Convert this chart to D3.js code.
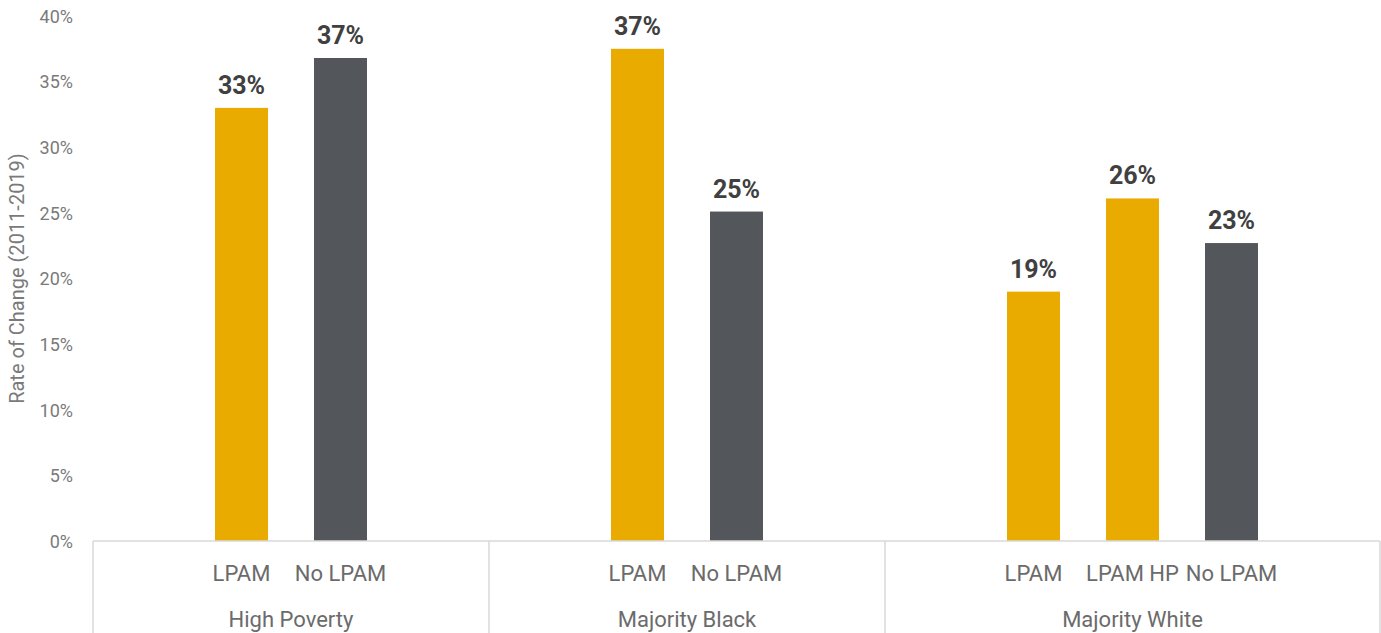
<!DOCTYPE html>
<html>
<head>
<meta charset="utf-8">
<script src="https://cdn.jsdelivr.net/npm/d3@7"></script>
<style>
  html, body { margin: 0; padding: 0; background: #fff; }
  svg { display: block; }
</style>
</head>
<body>
<svg id="chart" width="1381" height="633"></svg>
<script>
// Data
const groups = ["High Poverty", "Majority Black", "Majority White"];
const groupSlots = [4, 4, 5]; // category slots per group (including blank slots)
const categories = [
  "", "LPAM", "No LPAM", "",
  "", "LPAM", "No LPAM", "",
  "", "LPAM", "LPAM HP", "No LPAM", ""
];
const values = [
  null, 33.0, 36.8, null,
  null, 37.5, 25.1, null,
  null, 19.0, 26.1, 22.7, null
];
const labels = [
  "", "33%", "37%", "",
  "", "37%", "25%", "",
  "", "19%", "26%", "23%", ""
];
const seriesType = [
  "", "lpam", "no", "",
  "", "lpam", "no", "",
  "", "lpam", "lpam", "no", ""
];
const yTicks = [0, 5, 10, 15, 20, 25, 30, 35, 40];
const yTitle = "Rate of Change (2011-2019)";

(function () {
const colors = { lpam: "#EAAB00", no: "#53565A" };
const font = "Roboto, 'Open Sans', sans-serif";

const svg = d3.select("#chart");
const mLeft = 93, mRight = 1380, mTop = 16, mBottom = 541;

const slotIdx = categories.map((_, i) => i);
const x = d3.scaleBand().domain(slotIdx).range([mLeft, mRight]).padding(0);
const y = d3.scaleLinear().domain([0, 40]).range([mBottom, mTop]);

const barW = x.bandwidth() * 0.535;

// Y axis tick labels
const yAxis = d3.axisLeft(y).tickValues(yTicks).tickFormat(d => d + "%").tickSize(0).tickPadding(0);
const gy = svg.append("g").attr("transform", `translate(${73},0)`).call(yAxis);
gy.select(".domain").remove();
gy.selectAll("text")
  .attr("fill", "#7a7a7a")
  .style("font-family", font)
  .style("font-size", "18px")
  .attr("dy", "0.35em");

// Y title
svg.append("text")
  .attr("transform", `translate(24, ${(mTop + mBottom) / 2}) rotate(-90)`)
  .attr("text-anchor", "middle")
  .attr("fill", "#7a7a7a")
  .style("font-family", font)
  .style("font-size", "20px")
  .text(yTitle);

// Bars
const data = slotIdx.filter(i => values[i] != null);
svg.append("g").selectAll("rect")
  .data(data)
  .join("rect")
  .attr("x", i => x(i) + (x.bandwidth() - barW) / 2)
  .attr("y", i => y(values[i]))
  .attr("width", barW)
  .attr("height", i => y(0) - y(values[i]))
  .attr("fill", i => colors[seriesType[i]]);

// Data labels
svg.append("g").selectAll("text")
  .data(data)
  .join("text")
  .attr("x", i => x(i) + x.bandwidth() / 2)
  .attr("y", i => y(values[i]) - 14)
  .attr("text-anchor", "middle")
  .attr("fill", "#404040")
  .style("font-family", font)
  .style("font-weight", "bold")
  .style("font-size", "25px")
  .text(i => labels[i]);

// Category axis line
const axisColor = "#d9d9d9";
svg.append("line")
  .attr("x1", mLeft).attr("x2", mRight)
  .attr("y1", mBottom).attr("y2", mBottom)
  .attr("stroke", axisColor).attr("stroke-width", 1.5);

// Group separators
let start = 0;
const bounds = [];
groupSlots.forEach(n => {
  bounds.push([start, start + n]);
  start += n;
});
const edge = k => (k === categories.length ? mRight : x(k));
const sepXs = [mLeft].concat(bounds.map(b => edge(b[1])));
svg.append("g").selectAll("line")
  .data(sepXs)
  .join("line")
  .attr("x1", d => d).attr("x2", d => d)
  .attr("y1", mBottom).attr("y2", 633)
  .attr("stroke", axisColor).attr("stroke-width", 1.5);

// Category labels
svg.append("g").selectAll("text")
  .data(slotIdx.filter(i => categories[i] !== ""))
  .join("text")
  .attr("x", i => x(i) + x.bandwidth() / 2)
  .attr("y", 581)
  .attr("text-anchor", "middle")
  .attr("fill", "#6b6b6b")
  .style("font-family", font)
  .style("font-size", "22px")
  .text(i => categories[i]);

// Group labels
svg.append("g").selectAll("text")
  .data(groups.map((g, gi) => ({ g, b: bounds[gi] })))
  .join("text")
  .attr("x", d => (x(d.b[0]) + edge(d.b[1])) / 2)
  .attr("y", 627)
  .attr("text-anchor", "middle")
  .attr("fill", "#6b6b6b")
  .style("font-family", font)
  .style("font-size", "22px")
  .text(d => d.g);
})();
</script>
</body>
</html>
